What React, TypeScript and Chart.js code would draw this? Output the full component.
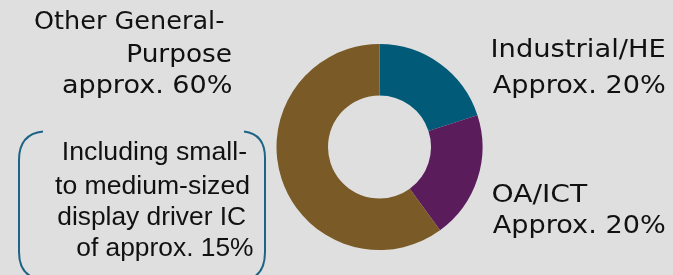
import React, { useEffect, useRef } from "react";
import { Chart, registerables } from "chart.js";

Chart.register(...registerables);

const categories = ["Industrial/HE", "OA/ICT", "Other General-Purpose"];
const shares = [20, 20, 60];
const sliceColors = ["#005a78", "#5a1c5a", "#7a5a26"];

const leftLabelLines = ["Other General-", "Purpose", "approx. 60%"];
const industrialLines = ["Industrial/HE", "Approx. 20%"];
const oaLines = ["OA/ICT", "Approx. 20%"];
const noteLines = ["Including small-", "to medium-sized", "display driver IC", "of approx. 15%"];

const BG = "#dfdfdf";

// layout: [left, right, baseline] for each text line
const leftLabelBoxes = [
  [35, 223.3, 29.3],
  [128.3, 231.7, 61.7],
  [63, 231.7, 92.7],
];
const industrialBoxes = [
  [492.7, 665, 57.3],
  [492.7, 665, 92.7],
];
const oaBoxes = [
  [492.7, 588, 201.7],
  [492.7, 665, 233.3],
];
const noteBoxes = [
  [64, 246.7, 160],
  [55, 249, 193.5],
  [58.3, 246, 224.5],
  [77.3, 253.3, 255.5],
];

function fitText(ctx: CanvasRenderingContext2D, text: string, box: number[]) {
  const [l, r, y] = box;
  const m = ctx.measureText(text);
  const w = m.actualBoundingBoxRight + m.actualBoundingBoxLeft;
  const s = (r - l) / w;
  ctx.save();
  ctx.translate(l, y);
  ctx.scale(s, 1);
  ctx.textAlign = "left";
  ctx.fillText(text, m.actualBoundingBoxLeft, 0);
  ctx.restore();
}

const annotationPlugin = {
  id: "annotations",
  beforeDraw(chart: any) {
    const ctx = chart.ctx as CanvasRenderingContext2D;
    ctx.save();
    ctx.fillStyle = BG;
    ctx.fillRect(0, 0, chart.width, chart.height);
    ctx.restore();
  },
  afterDraw(chart: any) {
    const ctx = chart.ctx as CanvasRenderingContext2D;
    ctx.save();
    ctx.fillStyle = "#111111";
    ctx.textBaseline = "alphabetic";
    ctx.font = "25px 'DejaVu Sans'";
    leftLabelLines.forEach((t, i) => fitText(ctx, t, leftLabelBoxes[i]));
    industrialLines.forEach((t, i) => fitText(ctx, t, industrialBoxes[i]));
    oaLines.forEach((t, i) => fitText(ctx, t, oaBoxes[i]));

    ctx.font = "25px 'Liberation Sans'";
    noteLines.forEach((t, i) => fitText(ctx, t, noteBoxes[i]));

    // bracket
    ctx.strokeStyle = "#1d6485";
    ctx.lineWidth = 2;
    ctx.beginPath();
    ctx.moveTo(43, 131.5);
    ctx.quadraticCurveTo(19, 134, 19, 160);
    ctx.lineTo(19, 252);
    ctx.quadraticCurveTo(19, 272, 34, 278);
    ctx.stroke();
    ctx.beginPath();
    ctx.moveTo(244, 131.5);
    ctx.quadraticCurveTo(265, 134, 265, 158);
    ctx.lineTo(265, 252);
    ctx.quadraticCurveTo(265, 272, 252, 278);
    ctx.stroke();
    ctx.restore();
  },
};

export default function App() {
  const ref = useRef<HTMLCanvasElement>(null);
  useEffect(() => {
    document.body.style.margin = "0";
    document.body.style.background = BG;
    const chart = new Chart(ref.current!, {
      type: "doughnut",
      data: {
        labels: categories,
        datasets: [
          {
            data: shares,
            backgroundColor: sliceColors,
            borderWidth: 0,
          },
        ],
      },
      options: {
        responsive: false,
        animation: false,
        cutout: "50%",
        layout: { padding: { top: 44, bottom: 25, left: 276.5, right: 190.5 } },
        plugins: { legend: { display: false }, tooltip: { enabled: false } },
      },
      plugins: [annotationPlugin],
    });
    return () => chart.destroy();
  }, []);
  return (
    <div style={{ width: 673, height: 275 }}>
      <canvas ref={ref} width={673} height={275} />
    </div>
  );
}
